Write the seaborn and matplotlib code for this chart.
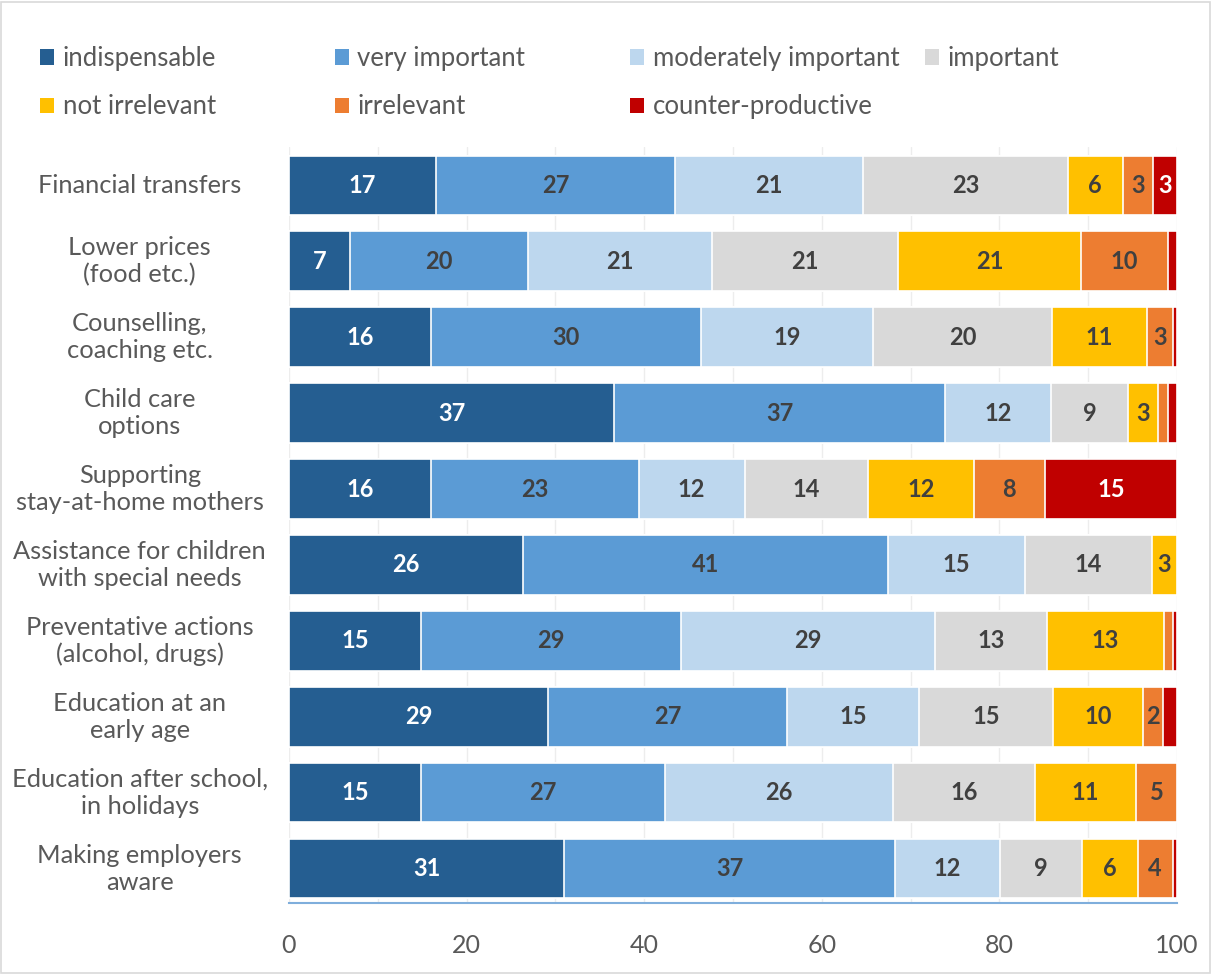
import numpy as np
import pandas as pd
import seaborn as sns
import matplotlib.pyplot as plt
from matplotlib.patches import Patch, Rectangle

categories = ["Financial transfers", "Lower prices\n(food etc.)", "Counselling,\ncoaching etc.",
              "Child care\noptions", "Supporting\nstay-at-home mothers",
              "Assistance for children\nwith special needs", "Preventative actions\n(alcohol, drugs)",
              "Education at an\nearly age", "Education after school,\nin holidays",
              "Making employers\naware"]
levels = ["indispensable", "very important", "moderately important", "important",
          "not irrelevant", "irrelevant", "counter-productive"]
colors = ["#255E91", "#5B9BD5", "#BDD7EE", "#D9D9D9", "#FFC000", "#ED7D31", "#C00000"]
label_colors = ["white", "#404040", "#404040", "#404040", "#404040", "#404040", "white"]

indispensable = [16.6, 6.9, 16.0, 36.6, 16.0, 26.4, 14.9, 29.2, 14.9, 31.0]
very_important = [26.9, 20.0, 30.4, 37.3, 23.4, 41.1, 29.2, 26.9, 27.4, 37.2]
moderately_important = [21.2, 20.7, 19.4, 11.9, 11.9, 15.4, 28.7, 14.9, 25.7, 11.9]
important = [23.0, 21.0, 20.1, 8.7, 13.9, 14.3, 12.6, 15.0, 16.0, 9.2]
not_irrelevant = [6.2, 20.6, 10.7, 3.4, 11.9, 2.8, 13.1, 10.2, 11.4, 6.3]
irrelevant = [3.4, 9.8, 2.9, 1.1, 8.0, 0.0, 1.1, 2.2, 4.6, 3.9]
counter_productive = [2.7, 1.0, 0.5, 1.0, 14.9, 0.0, 0.4, 1.6, 0.0, 0.5]

df = pd.DataFrame({"category": categories, "indispensable": indispensable,
                   "very important": very_important, "moderately important": moderately_important,
                   "important": important, "not irrelevant": not_irrelevant,
                   "irrelevant": irrelevant, "counter-productive": counter_productive})
cum = df[levels].cumsum(axis=1)

sns.set_theme(style="white")
plt.rcParams["font.family"] = ["Lato", "DejaVu Sans"]

fig = plt.figure(figsize=(12.12, 9.74), dpi=100)
ax = fig.add_axes([0.2384, 0.0729, 0.7327, 0.776])

# stacked bars: draw cumulative totals from the last level backwards
for lev, col in zip(levels[::-1], colors[::-1]):
    sns.barplot(x=cum[lev], y=df["category"], color=col, orient="h", width=0.78,
                edgecolor="white", linewidth=1.2, ax=ax, saturation=1, zorder=2)

for i, row in df.iterrows():
    for j, lev in enumerate(levels):
        v = row[lev]
        if v >= 2:
            ax.text(cum.loc[i, lev] - v / 2, i, f"{v:.0f}", ha="center", va="center",
                    fontsize=17, fontweight="bold", color=label_colors[j], zorder=3)

ax.set_xlim(0, 100)
ax.set_ylim(9.45, -0.5)
ax.set_xticks(np.arange(0, 101, 20))
ax.set_xticks(np.arange(10, 100, 10), minor=True)
ax.xaxis.grid(True, which="both", color="#EDEDED", linewidth=1, zorder=0)
ax.set_axisbelow(True)
ax.set_xlabel("")
ax.set_ylabel("")
ax.tick_params(axis="x", labelsize=18, colors="#595959", length=0, pad=22)
ax.tick_params(axis="y", length=0)
for s in ["top", "right", "left"]:
    ax.spines[s].set_visible(False)
ax.spines["bottom"].set_color("#7FAEDC")
ax.spines["bottom"].set_linewidth(1.5)

# category labels, centred in the left margin like the original
ax.set_yticklabels([])
for i, c in enumerate(categories):
    ax.text(-16.8, i, c, ha="center", va="center", fontsize=18.3, color="#595959",
            linespacing=1.2, transform=ax.transData, clip_on=False)

# legend laid out in four columns, filled row by row
handles = [Patch(facecolor=c, edgecolor="none", label=l) for l, c in zip(levels, colors)]
col_x = [0.0248, 0.268, 0.5116, 0.755]
for k, x in enumerate(col_x):
    hs = handles[k::4]
    fig.legend(handles=hs, loc="upper left", bbox_to_anchor=(x, 0.963), frameon=False,
               fontsize=18.5, labelcolor="#595959", handlelength=0.55, handleheight=0.55,
               handletextpad=0.32, labelspacing=0.9, borderaxespad=0)

fig.patches.append(Rectangle((0.001, 0.001), 0.997, 0.997, transform=fig.transFigure,
                             fill=False, edgecolor="#D9D9D9", linewidth=1.2))

plt.savefig("out.png", dpi=100)
